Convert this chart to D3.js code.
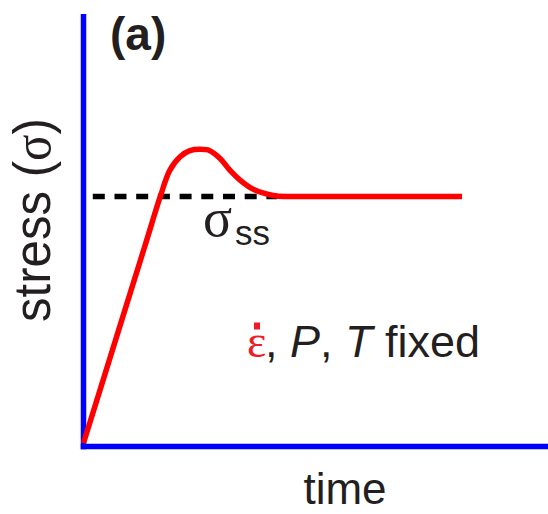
<!DOCTYPE html>
<html>
<head>
<meta charset="utf-8">
<script src="https://cdn.jsdelivr.net/npm/d3@7"></script>
<style>
  html, body { margin: 0; padding: 0; background: #fff; }
  svg { display: block; }
  text { font-family: "Liberation Sans", Arial, Helvetica, sans-serif; fill: #231f20; }
</style>
</head>
<body>
<script>
// ---- data (schematic units) ----
const time   = [0, 8, 13.2, 16.5, 18.6, 20.8, 22.9, 25.1, 27.2, 29.4, 31.5, 33.7, 36.5, 39.4, 41.6, 45, 60, 81.5];
const stress = [0.8, 28.4, 46.3, 57.7, 63.9, 67.0, 68.4, 68.7, 68.4, 66.6, 63.9, 61.6, 59.5, 58.4, 57.9, 57.8, 57.8, 57.8];
const steadyLevel = [57.8];
const steadyRange = [2.0, 41.7];
const panelLabel = "(a)";
const xLabel = "time";
const yLabel = "stress (";
const yLabelSym = "σ";
const ssSym = "σ";
const ssSub = "ss";

const W = 548, H = 514;
const svg = d3.select("body").append("svg").attr("width", W).attr("height", H);

const x = d3.scaleLinear().domain([0, 100]).range([83.5, 548]);
const y = d3.scaleLinear().domain([0, 100]).range([446.5, 14]);

// axes (blue lines, no ticks)
const xAxis = d3.axisBottom(x).tickValues([]).tickSizeOuter(0);
const yAxis = d3.axisLeft(y).tickValues([]).tickSizeOuter(0);
const gx = svg.append("g").attr("transform", `translate(0,${y(0)})`).call(xAxis);
gx.select(".domain").attr("stroke", "#0000ff").attr("stroke-width", 5.5).attr("d", `M${x(0) - 2.75},0H${x(100)}`);
const gy = svg.append("g").attr("transform", `translate(${x(0)},0)`).call(yAxis);
gy.select(".domain").attr("stroke", "#0000ff").attr("stroke-width", 5.5).attr("d", `M0,${y(100)}V${y(0) + 2.75}`);

// steady-state dashed line
svg.append("line")
  .attr("x1", x(steadyRange[0])).attr("x2", x(steadyRange[1]))
  .attr("y1", y(steadyLevel[0])).attr("y2", y(steadyLevel[0]))
  .attr("stroke", "#000").attr("stroke-width", 5.5)
  .attr("stroke-dasharray", "12,9.7");

// stress curve
const pts = time.map((t, i) => [t, stress[i]]);
const line = d3.line().x(d => x(d[0])).y(d => y(d[1])).curve(d3.curveCatmullRom.alpha(0.5));
svg.append("path").datum(pts)
  .attr("d", line)
  .attr("fill", "none")
  .attr("stroke", "#ff0000")
  .attr("stroke-width", 5.5)
  .attr("stroke-linejoin", "round");

// panel label
svg.append("text").attr("x", 110).attr("y", 50)
  .attr("font-size", 46).attr("font-weight", "bold").text(panelLabel);

// sigma_ss label
svg.append("text").attr("x", 203).attr("y", 236)
  .style("font-family", "'Liberation Serif', 'Times New Roman', serif")
  .attr("font-size", 54).text(ssSym);
svg.append("text").attr("x", 235).attr("y", 245)
  .attr("font-size", 35).text(ssSub);

// x label
svg.append("text").attr("x", 345).attr("y", 504)
  .attr("text-anchor", "middle").attr("font-size", 44).text(xLabel);

// y label
const yl = svg.append("text")
  .attr("transform", "translate(50,220) rotate(-90)")
  .attr("text-anchor", "middle").attr("font-size", 52)
  .attr("textLength", 204).attr("lengthAdjust", "spacingAndGlyphs");
yl.append("tspan").text(yLabel);
yl.append("tspan").style("font-family", "'Liberation Serif', 'Times New Roman', serif").text(yLabelSym);
yl.append("tspan").text(")");

// conditions annotation (strain rate with dot above)
svg.append("text").attr("x", 247).attr("y", 357)
  .style("font-family", "'Liberation Serif', 'Times New Roman', serif")
  .style("fill", "#ee1c24").attr("font-size", 46).text("ε");
svg.append("rect").attr("x", 254).attr("y", 322.5).attr("width", 6).attr("height", 7)
  .attr("fill", "#ee1c24");
const ann = svg.append("text").attr("x", 265).attr("y", 357).attr("font-size", 45);
ann.append("tspan").text(", ");
ann.append("tspan").attr("font-style", "italic").text("P");
ann.append("tspan").text(", ");
ann.append("tspan").attr("font-style", "italic").text("T");
ann.append("tspan").text(" fixed");
</script>
</body>
</html>
